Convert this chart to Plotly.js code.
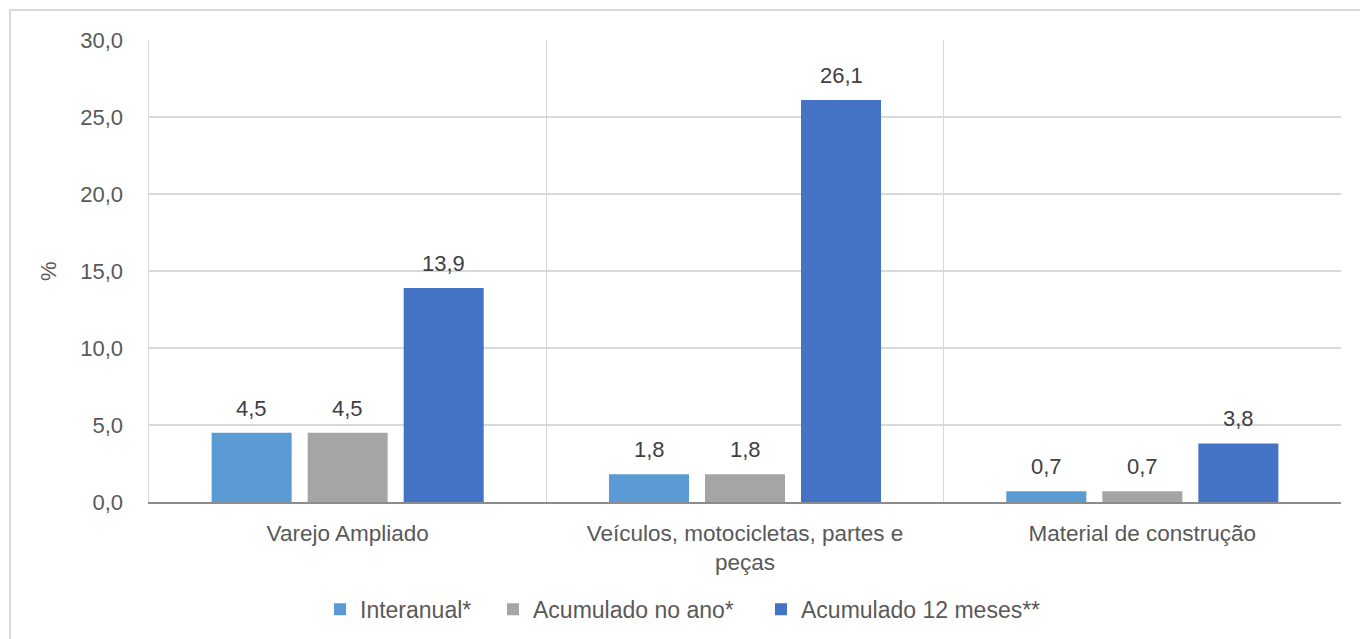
<!DOCTYPE html>
<html>
<head>
<meta charset="utf-8">
<script src="https://cdn.plot.ly/plotly-3.0.1.min.js"></script>
<style>
html,body{margin:0;padding:0;overflow:hidden;background:#fff;}
#frame{position:absolute;left:9px;top:9px;width:1500px;height:800px;border-left:2px solid #d9d9d9;border-top:2px solid #d9d9d9;}
#chart{position:absolute;left:0;top:0;width:1360px;height:639px;}
</style>
</head>
<body>
<div id="frame"></div>
<div id="chart"></div>
<script>
const categories = ["Varejo Ampliado", "Veículos, motocicletas, partes e<br>peças", "Material de construção"];
const seriesNames = ["Interanual*", "Acumulado no ano*", "Acumulado 12 meses**"];
const interanual = [4.5, 1.8, 0.7];
const acumuladoAno = [4.5, 1.8, 0.7];
const acumulado12 = [13.9, 26.1, 3.8];
const yTicks = [0, 5, 10, 15, 20, 25, 30];
const yTickLabels = ["0,0", "5,0", "10,0", "15,0", "20,0", "25,0", "30,0"];
const colors = ["#5B9BD5", "#A5A5A5", "#4472C4"];

const FONT = 'Liberation Sans, Arial, sans-serif';
const fmt = v => v.toFixed(1).replace('.', ',');
const allSeries = [interanual, acumuladoAno, acumulado12];
const legendIds = ['legend', 'legend2', 'legend3'];

const traces = allSeries.map((vals, i) => ({
  type: 'bar',
  name: seriesNames[i],
  x: categories,
  y: vals,
  marker: {color: colors[i]},
  legend: legendIds[i],
  hoverinfo: 'none'
}));

// value labels placed through the axes' scales, shifted to each bar of the group
const slotPx = 96;
const annotations = [];
allSeries.forEach((vals, i) => {
  vals.forEach((v, j) => {
    annotations.push({
      x: categories[j], y: v, xref: 'x', yref: 'y',
      text: fmt(v), showarrow: false,
      xanchor: 'center', yanchor: 'bottom',
      xshift: (i - 1) * slotPx, yshift: 10,
      font: {family: FONT, size: 22, color: '#404040'}
    });
  });
});
annotations.push({
  text: '%', xref: 'paper', yref: 'paper', x: -0.0847, y: 0.5,
  xanchor: 'center', yanchor: 'middle', textangle: -90, showarrow: false,
  font: {family: FONT, size: 22, color: '#595959'}
});

const plotL = 149, plotW = 1192;
const legendPx = [320, 493, 761];
const legendBase = {
  orientation: 'h', xanchor: 'left', y: -0.232, yanchor: 'middle',
  font: {family: FONT, size: 23, color: '#595959'}, itemclick: false,
  bgcolor: 'rgba(0,0,0,0)'
};

const layout = {
  width: 1360, height: 639,
  margin: {l: plotL, r: 1360 - plotL - plotW, t: 40, b: 137, autoexpand: false},
  paper_bgcolor: 'rgba(0,0,0,0)',
  plot_bgcolor: 'rgba(0,0,0,0)',
  font: {family: FONT, size: 22, color: '#595959'},
  barmode: 'group',
  bargap: 0.275,
  bargroupgap: 0.1667,
  showlegend: true,
  legend: Object.assign({}, legendBase, {x: (legendPx[0] - plotL) / plotW}),
  legend2: Object.assign({}, legendBase, {x: (legendPx[1] - plotL) / plotW}),
  legend3: Object.assign({}, legendBase, {x: (legendPx[2] - plotL) / plotW}),
  xaxis: {
    type: 'category',
    tickson: 'boundaries',
    showgrid: true, gridcolor: '#d9d9d9', gridwidth: 1.5,
    ticks: 'outside', ticklen: 22, tickcolor: 'rgba(0,0,0,0)',
    ticklabelstandoff: 10,
    tickfont: {family: FONT, size: 22.5, color: '#595959'},
    showline: true, linecolor: '#8c8c8c', linewidth: 1.5,
    fixedrange: true
  },
  yaxis: {
    range: [0, 30],
    tickvals: yTicks, ticktext: yTickLabels,
    showgrid: true, gridcolor: '#d9d9d9', gridwidth: 1.5,
    zeroline: false,
    showline: true, linecolor: '#d9d9d9', linewidth: 1.5,
    ticks: 'outside', ticklen: 20, tickcolor: 'rgba(0,0,0,0)',
    tickfont: {family: FONT, size: 22, color: '#595959'},
    fixedrange: true
  },
  annotations: annotations
};

Plotly.newPlot('chart', traces, layout, {displayModeBar: false, staticPlot: true});
</script>
</body>
</html>
